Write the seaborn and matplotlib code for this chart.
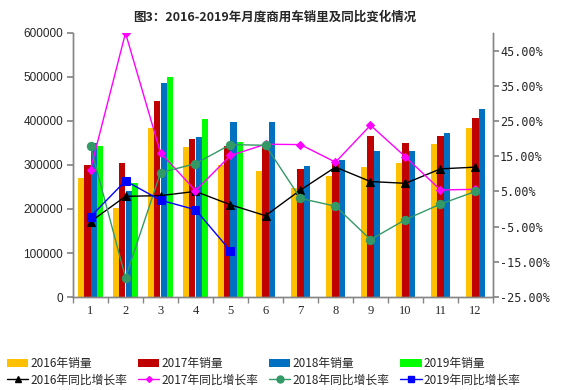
import numpy as np
import pandas as pd
import matplotlib
matplotlib.use('Agg')
import matplotlib.pyplot as plt
import seaborn as sns
from matplotlib.patches import Patch
from matplotlib.lines import Line2D
from matplotlib.ticker import FixedLocator

# monthly sales
months = [str(i) for i in range(1, 13)]
years = ['2016', '2017', '2018', '2019']
sales_2016 = [270000, 203000, 383000, 342000, 300000, 286000, 247000, 276000, 296000, 304000, 348000, 383000]
sales_2017 = [300000, 305000, 445000, 360000, 343000, 340000, 291000, 307000, 367000, 351000, 367000, 406000]
sales_2018 = [350000, 240000, 487000, 364000, 397000, 397000, 298000, 311000, 332000, 332000, 373000, 427000]
sales_2019 = [343000, 260000, 500000, 404000, 352000]

# year-on-year growth in percent
growth_2016 = [-3.6, 3.6, 3.8, 5.0, 1.2, -1.9, 5.4, 11.9, 7.8, 7.3, 11.4, 11.9]
growth_2017 = [11.2, 50.0, 16.0, 5.2, 15.2, 18.4, 18.3, 13.3, 23.8, 14.8, 5.4, 5.6]
growth_2018 = [17.8, -19.5, 10.3, 12.9, 18.3, 18.1, 3.0, 0.8, -8.7, -3.0, 1.4, 5.0]
growth_2019 = [-2.2, 8.0, 2.5, -0.2, -11.9]

bar_colors = {'2016': '#FFC000', '2017': '#C00000', '2018': '#0070C0', '2019': '#00FF00'}
line_styles = [
    ('2016', growth_2016, 'black', '^', 6),
    ('2017', growth_2017, '#FF00FF', 'D', 4),
    ('2018', growth_2018, '#339966', 'o', 6),
    ('2019', growth_2019, '#0000FF', 's', 6),
]

sns.set_theme(style='white')
plt.rcParams['font.family'] = ['Noto Sans CJK SC', 'DejaVu Sans']

# long table for the bars
all_sales = [sales_2016, sales_2017, sales_2018, sales_2019]
rows = []
for yr, vals in zip(years, all_sales):
    for m, v in zip(months, vals):
        rows.append({'month': m, 'year': yr, 'sales': v})
df = pd.DataFrame(rows)

fig = plt.figure(figsize=(5.67, 3.9), dpi=100)
ax = fig.add_axes([73 / 567, 1 - 297 / 390, 420 / 567, 264 / 390])

# months 1-5 have four series, 6-12 only three (each group centred)
first = df[df['month'].isin(months[:5])]
second = df[df['month'].isin(months[5:]) & (df['year'] != '2019')]
sns.barplot(data=first, x='month', y='sales', hue='year', order=months, hue_order=years,
            palette=bar_colors, width=0.74, saturation=1, errorbar=None, legend=False,
            linewidth=0, ax=ax)
sns.barplot(data=second, x='month', y='sales', hue='year', order=months, hue_order=years[:3],
            palette=bar_colors, width=0.555, saturation=1, errorbar=None, legend=False,
            linewidth=0, ax=ax)

ax.set_xlim(-0.5, 11.5)
ax.set_ylim(0, 600000)
ax.set_yticks(np.arange(0, 600001, 100000))
ax.set_yticklabels([str(v) for v in range(0, 600001, 100000)], family='Liberation Sans', fontsize=8.5)
ax.set_xticks(range(12))
ax.set_xticklabels(months, family='Liberation Serif', fontsize=9)
ax.xaxis.set_minor_locator(FixedLocator(np.arange(-0.5, 12, 1)))
ax.tick_params(axis='x', which='major', length=0, pad=6)
ax.tick_params(axis='x', which='minor', length=4, color='#868686', direction='out', bottom=True)
ax.tick_params(axis='y', length=4, color='#868686', direction='out', left=True, pad=3)
ax.set_xlabel('')
ax.set_ylabel('')

ax2 = ax.twinx()
for yr, vals, col, mk, ms in line_styles:
    sns.lineplot(x=np.arange(len(vals)), y=vals, color=col, marker=mk, markersize=ms,
                 markeredgecolor=col, linewidth=1, ax=ax2)
ax2.set_ylim(-25, 50)
ticks_r = np.arange(-25, 46, 10)
ax2.set_yticks(ticks_r)
ax2.set_yticklabels([f'{v:.2f}%' for v in ticks_r], family='DejaVu Sans Mono', fontsize=8.5)
ax2.tick_params(axis='y', length=4, color='#868686', direction='out', right=True, pad=1)
ax2.set_ylabel('')

for a in (ax, ax2):
    a.spines['top'].set_visible(False)
    for s in ('left', 'right', 'bottom'):
        a.spines[s].set_color('#868686')
        a.spines[s].set_linewidth(1)

fig.text(0.484, 1 - 17 / 390, '图3：2016-2019年月度商用车销里及同比变化情况',
         ha='center', va='center', fontsize=9, fontweight='bold')

# legend: bars on first row, growth lines on second
handles, labels = [], []
for (yr, vals, col, mk, ms) in line_styles:
    handles.append(Patch(facecolor=bar_colors[yr], edgecolor='none'))
    labels.append(f'{yr}年销量')
    handles.append(Line2D([0], [0], color=col, marker=mk, markersize=ms - 1, linewidth=1))
    labels.append(f'{yr}年同比增长率')
fig.legend(handles, labels, ncol=4, loc='upper left', bbox_to_anchor=(7 / 567, 1 - 357 / 390),
           frameon=False, fontsize=8.5, handlelength=1.8, handletextpad=0.15,
           columnspacing=0.95, labelspacing=0.3, borderpad=0, borderaxespad=0)

fig.savefig('out.png', dpi=100)
